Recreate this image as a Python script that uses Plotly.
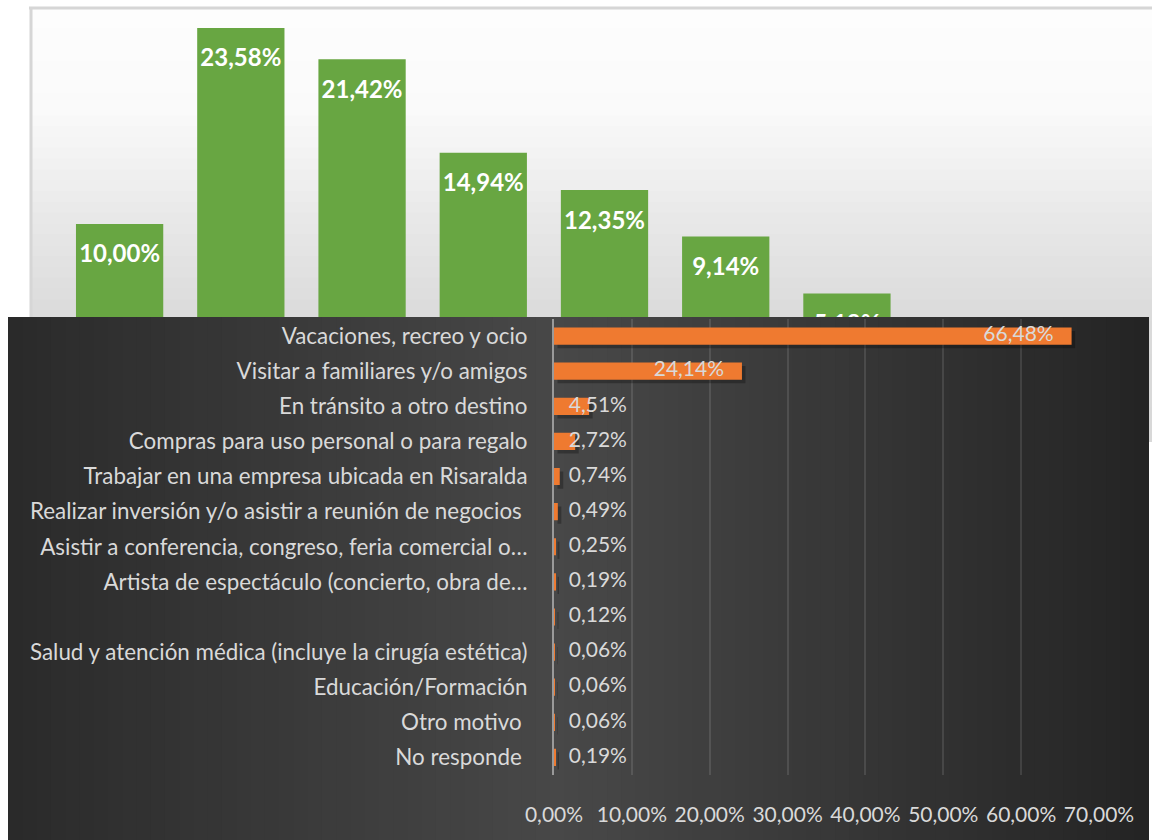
import plotly.graph_objects as go

# ---- data ----
# background chart (green), only the upper part is visible
green_vals = [10.00, 23.58, 21.42, 14.94, 12.35, 9.14, 5.18]
green_cats = ["1", "2", "3", "4", "5", "6", "7"]

# foreground chart (orange)
motivos = [
    "Vacaciones, recreo y ocio",
    "Visitar a familiares y/o amigos",
    "En tránsito a otro destino",
    "Compras para uso personal o para regalo",
    "Trabajar en una empresa ubicada en Risaralda",
    "Realizar inversión y/o asistir a reunión de negocios\u00a0",
    "Asistir a conferencia, congreso, feria comercial o…",
    "Artista de espectáculo (concierto, obra de…",
    " ",
    "Salud y atención médica (incluye la cirugía estética)",
    "Educación/Formación",
    "Otro motivo\u00a0",
    "No responde\u00a0",
]
motivos_vals = [66.48, 24.14, 4.51, 2.72, 0.74, 0.49, 0.25, 0.19, 0.12, 0.06, 0.06, 0.06, 0.19]
x_ticks = [0, 10, 20, 30, 40, 50, 60, 70]

W, H = 1152, 840


def px(x):
    return x / W


def py(y):
    return 1 - y / H


def gray(v):
    v = int(round(v))
    return "rgb(%d,%d,%d)" % (v, v, v)


def interp(stops, t):
    for (a, va), (b, vb) in zip(stops, stops[1:]):
        if a <= t <= b:
            return va + (vb - va) * (t - a) / (b - a)
    return stops[-1][1]


def pct(v):
    return ("%.2f%%" % v).replace(".", ",")


shapes = []

# light panel (vertical gradient)
light_stops = [(7, 253), (110, 250), (220, 232), (320, 218), (440, 216)]
n = 40
for i in range(n):
    y0 = 7 + (440 - 7) * i / n
    y1 = 7 + (440 - 7) * (i + 1) / n
    shapes.append(dict(type="rect", xref="paper", yref="paper", layer="below",
                       x0=px(30), x1=px(1160), y0=py(y1 + 2), y1=py(y0),
                       fillcolor=gray(interp(light_stops, (y0 + y1) / 2)), line_width=0))
shapes.append(dict(type="line", xref="paper", yref="paper", layer="below",
                   x0=px(29), x1=px(1160), y0=py(8), y1=py(8), line=dict(color="#d6d6d6", width=3)))
shapes.append(dict(type="line", xref="paper", yref="paper", layer="below",
                   x0=px(31), x1=px(31), y0=py(8), y1=py(440), line=dict(color="#d6d6d6", width=3)))

# dark panel (horizontal gradient)
dark_stops = [(8, 42), (300, 58), (560, 72), (820, 56), (1149, 36)]
n = 80
for i in range(n):
    x0 = 8 + (1149 - 8) * i / n
    x1 = 8 + (1149 - 8) * (i + 1) / n
    shapes.append(dict(type="rect", xref="paper", yref="paper", layer="below",
                       x0=px(x0), x1=px(min(x1 + 3, 1149)), y0=0, y1=py(317),
                       fillcolor=gray(interp(dark_stops, (x0 + x1) / 2)), line_width=0))

fig = go.Figure()

# green chart
fig.add_trace(go.Bar(x=green_cats, y=green_vals, width=0.72,
                     marker=dict(color="#68a642", line_width=0),
                     xaxis="x", yaxis="y", hoverinfo="skip"))
fig.add_trace(go.Scatter(x=green_cats, y=[v - 2.25 for v in green_vals], mode="text",
                         text=[pct(v) for v in green_vals],
                         textposition="middle center",
                         textfont=dict(family="Lato", size=24, color="white", weight="bold"),
                         cliponaxis=True, xaxis="x", yaxis="y", hoverinfo="skip"))

# orange chart (soft shadow first, then the bars)
fig.add_trace(go.Bar(x=motivos_vals, y=motivos, orientation="h", width=0.49,
                     offset=-0.245 + 0.1, base=0.45,
                     marker=dict(color="rgba(0,0,0,0.28)", line_width=0),
                     xaxis="x2", yaxis="y2", hoverinfo="skip"))
fig.add_trace(go.Bar(x=motivos_vals, y=motivos, orientation="h", width=0.49,
                     offset=-0.245,
                     marker=dict(color="#ef7a30", line_width=0),
                     xaxis="x2", yaxis="y2", hoverinfo="skip"))
lab_x = [v - 2.3 if v > 10 else 1.9 for v in motivos_vals]
lab_pos = ["middle left" if v > 10 else "middle right" for v in motivos_vals]
fig.add_trace(go.Scatter(x=lab_x, y=motivos, mode="text",
                         text=[pct(v) for v in motivos_vals],
                         textposition=lab_pos,
                         textfont=dict(family="Lato", size=21, color="#d9d9d9"),
                         cliponaxis=False, xaxis="x2", yaxis="y2", hoverinfo="skip"))

# green axes: baseline sits below the dark panel, so bars get clipped there
scale = (224 - 28) / (23.58 - 10.00)   # px per percent
base_px = 224 + 10.00 * scale
g_bot, g_top = 317, 8
fig.update_layout(
    xaxis=dict(domain=[px(59), px(1150)], type="category", range=[-0.5, 8.5],
               visible=False, fixedrange=True, automargin=False),
    yaxis=dict(domain=[py(g_bot), py(g_top)],
               range=[(base_px - g_bot) / scale, (base_px - g_top) / scale],
               visible=False, fixedrange=True, automargin=False),
    xaxis2=dict(domain=[px(554), px(1099)], range=[0, 70], anchor="y2",
                tickvals=x_ticks, ticktext=[pct(t) for t in x_ticks],
                showgrid=True, gridcolor="rgba(255,255,255,0.11)", gridwidth=2,
                zeroline=False, showline=False, automargin=False,
                ticks="outside", ticklen=21, tickcolor="rgba(0,0,0,0)",
                tickfont=dict(family="Lato", size=21, color="#d9d9d9")),
    yaxis2=dict(domain=[py(775), py(318.5)], anchor="x2", type="category",
                categoryorder="array", categoryarray=motivos,
                range=[len(motivos) - 0.5, -0.5], automargin=False,
                showline=True, linecolor="#9a9a9a", linewidth=2,
                ticks="outside", ticklen=20, tickcolor="rgba(0,0,0,0)",
                showgrid=False, zeroline=False,
                tickfont=dict(family="Lato", size=22.4, color="#d9d9d9")),
    shapes=shapes,
    width=W, height=H,
    margin=dict(l=0, r=0, t=0, b=0, pad=0),
    paper_bgcolor="white", plot_bgcolor="rgba(0,0,0,0)",
    showlegend=False,
)

fig.write_html("out.html", config={"displayModeBar": False},
               post_script="document.body.style.margin='0';")
